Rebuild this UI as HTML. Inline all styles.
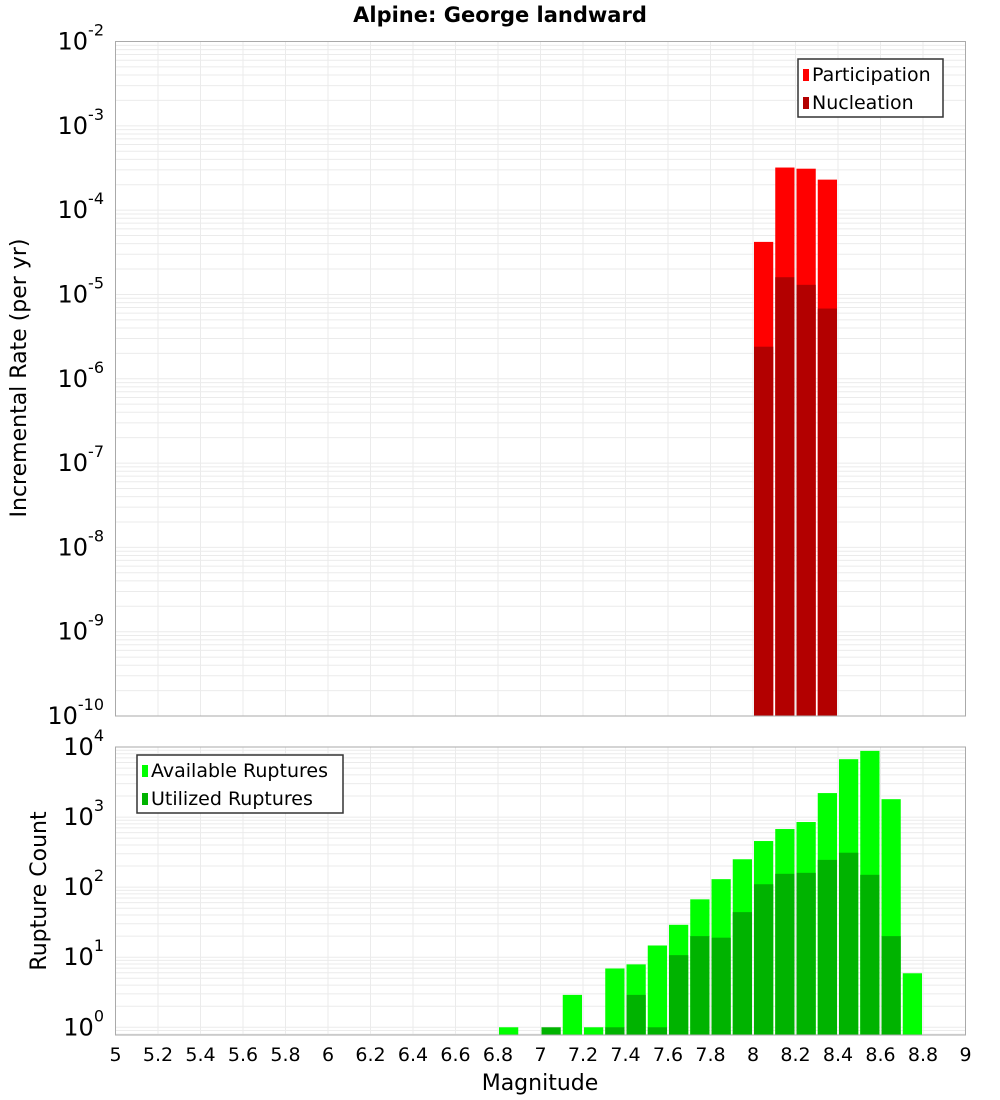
<!DOCTYPE html>
<html><head><meta charset="utf-8"><style>
body{margin:0;background:#fff;}
svg{display:block;font-family:"DejaVu Sans","Liberation Sans",sans-serif;}
</style></head><body>
<svg id="c" width="1000" height="1100"></svg>
<script>
const topBins=[8.0,8.1,8.2,8.3];
const participation=[4.2e-5,3.2e-4,3.1e-4,2.3e-4];
const nucleation=[2.4e-6,1.6e-5,1.3e-5,6.8e-6];
const botBins=[6.8,7.0,7.1,7.2,7.3,7.4,7.5,7.6,7.7,7.8,7.9,8.0,8.1,8.2,8.3,8.4,8.5,8.6,8.7];
const available=[1,0,2.9,1,6.9,7.9,14.7,29,67,130,250,455,675,850,2200,6700,8800,1800,5.9];
const utilized=[0,1,0,0,1,2.9,1,10.7,20,19,44,110,155,160,245,310,150,20,0];
const xTicks=[5,5.2,5.4,5.6,5.8,6,6.2,6.4,6.6,6.8,7,7.2,7.4,7.6,7.8,8,8.2,8.4,8.6,8.8,9];
const topExp=[-10,-9,-8,-7,-6,-5,-4,-3,-2];
const botExp=[0,1,2,3,4];
const NS="http://www.w3.org/2000/svg";
const svg=document.getElementById('c');
function el(t,a,p){const e=document.createElementNS(NS,t);for(const k in a)e.setAttribute(k,a[k]);(p||svg).appendChild(e);return e;}
const L=115.5,R=965.5;
const xs=m=>L+(m-5)/4*(R-L);
const T1=41.5,B1=716,lo1=-10,hi1=-2;
const y1=v=>B1-(Math.log10(v)-lo1)/(hi1-lo1)*(B1-T1);
const T2=747,B2=1035,lo2=Math.log10(0.776),hi2=4;
const y2=v=>B2-(Math.log10(v)-lo2)/(hi2-lo2)*(B2-T2);
function grid(T,B,lo,hi,ys,name){
  const g=el('g',{});
  
  for(let e=Math.floor(lo);e<hi;e++)for(let k=1;k<10;k++){const v=k*Math.pow(10,e);const lv=Math.log10(v);if(lv<lo||lv>hi)continue;const y=ys(v);el('line',{x1:L,x2:R,y1:y,y2:y,stroke:'#ebebeb','stroke-width':1},g);}
  xTicks.forEach(m=>{const x=xs(m);el('line',{x1:x,x2:x,y1:T,y2:B,stroke:'#ebebeb','stroke-width':1},g);});
}
grid(T1,B1,lo1,hi1,y1,'top-grid');
grid(T2,B2,lo2,hi2,y2,'bottom-grid');
function bars(bins,vals,ys,B,color,name){
  const g=el('g',{});
  bins.forEach((m,i)=>{const v=vals[i];if(!(v>0))return;const x0=xs(m)+1,x1=xs(m+0.1)-1;const y=ys(v);
    const r=el('rect',{x:x0,y:y,width:x1-x0,height:B-y,fill:color},g);
    });
}
bars(topBins,participation,y1,B1,'#ff0000','participation');
bars(topBins,nucleation,y1,B1,'#b30000','nucleation');
bars(botBins,available,y2,B2,'#00ff00','available');
bars(botBins,utilized,y2,B2,'#00b300','utilized');
el('rect',{x:L,y:T1,width:R-L,height:B1-T1,fill:'none',stroke:'#aaa','stroke-width':1});
el('rect',{x:L,y:T2,width:R-L,height:B2-T2,fill:'none',stroke:'#aaa','stroke-width':1});
function ylab(exps,ys,name){
  exps.forEach(e=>{const y=ys(Math.pow(10,e));const t=el('text',{x:104,y:y+8,'font-size':24,'text-anchor':'end',fill:'#000'});
    
    t.appendChild(document.createTextNode('10'));const s=el('tspan',{'font-size':16,dy:-14},t);s.textContent=String(e).replace('-','-');});
}
ylab(topExp,y1,'top-y-tick');
ylab(botExp,y2,'bottom-y-tick');
xTicks.forEach(m=>{const t=el('text',{x:xs(m),y:1061,'font-size':19,'text-anchor':'middle'});t.textContent=String(m);
  });
let t=el('text',{x:500,y:22,'font-size':21,'font-weight':'bold','text-anchor':'middle'});t.textContent='Alpine: George landward';

t=el('text',{x:540,y:1090,'font-size':22,'text-anchor':'middle'});t.textContent='Magnitude';

t=el('text',{x:0,y:0,'font-size':22,'text-anchor':'middle',transform:'translate(26,378) rotate(-90)'});t.textContent='Incremental Rate (per yr)';

t=el('text',{x:0,y:0,'font-size':22,'text-anchor':'middle',transform:'translate(46,891) rotate(-90)'});t.textContent='Rupture Count';

function legend(x,y,w,items,name){
  const g=el('g',{});
  el('rect',{x:x,y:y,width:w,height:58,fill:'#fff',stroke:'#333','stroke-width':1.5},g);
  items.forEach((it,i)=>{el('rect',{x:x+5,y:y+10+i*28,width:6,height:12,fill:it[1]},g);
    const tx=el('text',{x:x+14,y:y+22+i*28,'font-size':19},g);tx.textContent=it[0];});
}
legend(798,59,145,[['Participation','#ff0000'],['Nucleation','#b30000']],'top-legend');
legend(137,755,206,[['Available Ruptures','#00ff00'],['Utilized Ruptures','#00b300']],'bottom-legend');
</script>
</body></html>
